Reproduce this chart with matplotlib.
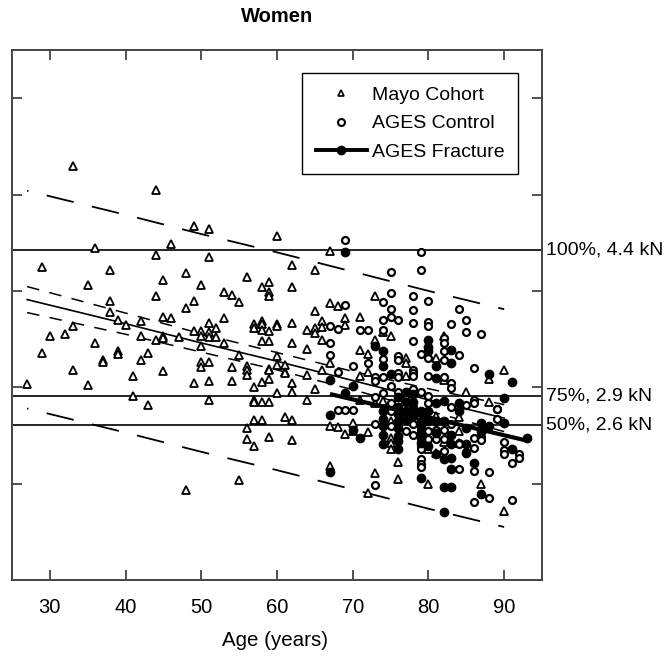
import matplotlib.pyplot as plt
from matplotlib.lines import Line2D
from matplotlib.transforms import blended_transform_factory

plt.rcParams['font.family'] = ['Liberation Sans', 'DejaVu Sans']
plt.rcParams['lines.scale_dashes'] = False

# Mayo cohort (open triangles): age, failure load (kN)
mayo_age = [27, 29, 29, 30, 32, 33, 33, 33, 35, 35, 36, 36, 37, 37,
            38, 38, 38, 39, 39, 39, 40, 41, 41, 42, 42, 42, 43, 43,
            44, 44, 44, 44, 45, 45, 45, 45, 45, 46, 46, 47, 48, 48, 48,
            49, 49, 49, 49, 50, 50, 50, 50, 50, 50,
            51, 51, 51, 51, 51, 51, 51, 51, 52, 52, 53, 53, 53, 54, 54, 54,
            55, 55, 55, 56, 56, 56, 56, 56, 56, 57, 57, 57, 57, 57, 57, 57,
            58, 58, 58, 58, 58, 58, 58, 58, 59, 59, 59, 59, 59, 59, 59, 59, 59, 59,
            60, 60, 60, 60, 60, 60, 61, 61, 61, 61, 62, 62, 62, 62, 62, 62, 62, 62,
            64, 64, 64, 64, 65, 65, 65, 65, 65, 66, 66, 66, 66,
            67, 67, 67, 67, 67, 68, 68, 69, 69, 69, 70, 70, 71, 71, 71, 71,
            72, 72, 72, 72, 73, 73, 73, 73, 74, 74, 75, 75, 75, 75, 75,
            76, 76, 77, 77, 77, 80, 80, 81, 81, 81, 82, 82, 82, 84, 84, 84,
            85, 87, 88, 88, 90, 90]
mayo_force = [3.03, 4.245, 3.356, 3.535, 3.552, 5.296, 3.631, 3.183, 4.065, 3.028, 4.448, 3.459, 3.286, 3.26,
              4.217, 3.897, 3.78, 3.70, 3.372, 3.35, 3.645, 3.114, 2.907, 3.69, 3.535, 3.286, 3.356, 2.814,
              5.052, 4.369, 3.948, 3.486, 4.111, 3.734, 3.535, 3.51, 3.165, 4.489, 3.724, 3.517, 4.183, 3.827, 1.935,
              4.672, 3.897, 3.579, 3.045, 4.062, 3.579, 3.53, 3.424, 3.259, 3.21,
              4.644, 4.355, 3.672, 3.573, 3.52, 3.259, 3.069, 2.873, 3.61, 3.517, 3.99, 3.718, 3.459, 3.959, 3.211, 3.069,
              3.883, 3.338, 2.038, 4.142, 3.217, 3.18, 3.13, 2.573, 2.466, 3.659, 3.614, 3.004, 2.873, 2.85, 2.659, 2.39,
              4.038, 3.683, 3.66, 3.59, 3.476, 3.052, 2.85, 2.659, 4.096, 3.99, 3.948, 3.58, 3.476, 3.19, 3.176, 3.09, 2.85, 2.483,
              4.569, 3.659, 3.64, 3.32, 3.235, 2.942, 3.235, 3.16, 3.149, 2.694, 4.266, 4.038, 3.672, 3.459, 3.045, 2.952, 2.659, 2.449,
              3.59, 3.397, 3.131, 2.873, 4.217, 3.79, 3.614, 3.563, 2.983, 3.683, 3.63, 3.486, 3.183,
              4.41, 3.873, 3.252, 2.60, 2.183, 3.845, 2.59, 3.718, 3.648, 2.511, 2.632, 2.545, 3.728, 3.39, 3.114, 2.873,
              3.349, 3.155, 2.539, 1.90, 3.948, 3.493, 2.84, 2.115, 3.569, 2.855, 3.527, 2.649, 2.47, 2.425, 2.356,
              2.224, 2.045, 3.304, 3.25, 3.114, 2.36, 1.994, 3.304, 2.70, 2.314, 3.53, 3.08, 2.43, 2.69, 2.55, 2.425,
              2.948, 1.994, 3.09, 2.845, 3.183, 1.718]

# AGES controls (open circles)
ctrl_age = [67, 67, 67, 68, 68, 68, 69, 69, 69, 70, 70, 71, 72, 72,
            73, 73, 73, 73, 73, 74, 74, 74, 74, 74, 74, 74,
            75, 75, 75, 75, 75, 75, 75, 75, 76, 76, 76, 76, 76, 76, 76, 76,
            77, 77, 77, 78, 78, 78, 78, 78, 78, 78, 78, 78, 78, 78,
            79, 79, 79, 79, 79, 79, 79, 79, 79, 79, 80, 80, 80, 80, 80, 80, 80, 80, 80,
            81, 81, 82, 82, 82, 82, 82, 82, 82, 82, 83, 83, 83, 83, 83, 83,
            84, 84, 84, 84, 84, 85, 85, 85, 85, 86, 86, 86, 86, 86, 86, 86,
            87, 87, 87, 87, 88, 88, 89, 89, 89, 90, 90, 90, 91, 91, 92, 92]
ctrl_force = [3.631, 3.459, 3.338, 3.604, 3.155, 2.76, 4.527, 3.855, 2.76, 3.217, 2.76, 3.59, 3.59, 3.252,
              3.11, 3.06, 2.90, 2.62, 1.983, 3.89, 3.693, 3.59, 3.294, 3.11, 2.94, 2.75,
              4.20, 3.976, 3.811, 3.734, 3.01, 2.84, 2.75, 2.60, 3.693, 3.328, 3.28, 3.15, 3.11, 2.95, 2.85, 2.58,
              2.92, 2.70, 2.55, 3.948, 3.797, 3.666, 3.476, 3.18, 3.15, 3.12, 2.98, 2.80, 2.62, 2.50,
              4.403, 4.217, 3.349, 2.95, 2.56, 2.39, 2.36, 2.252, 2.20, 2.17, 3.90, 3.676, 3.631, 3.304, 3.114, 2.907, 2.84, 2.545, 2.466,
              2.56, 2.459, 3.51, 3.46, 3.38, 3.28, 3.11, 2.56, 2.459, 2.338, 3.655, 3.045, 2.99, 2.80, 2.614, 1.97,
              3.811, 3.338, 2.425, 2.407, 2.156, 3.70, 3.569, 2.82, 2.33, 3.20, 2.873, 2.839, 2.477, 2.373, 2.13, 1.81,
              3.552, 2.56, 2.48, 2.449, 2.12, 1.846, 2.777, 2.77, 2.666, 2.43, 2.35, 2.31, 2.218, 1.832, 2.304, 2.27]

# AGES fracture cases (filled circles)
frac_age = [67, 67, 67, 69, 69, 70, 70, 71, 73, 74, 74, 74, 74, 74, 74, 74, 75,
            76, 76, 76, 76, 76, 76, 76, 76, 77, 77, 77, 77, 78, 78, 78, 78,
            79, 79, 79, 79, 79, 79, 79, 80, 80, 80, 80, 80, 80, 81, 81, 81, 81, 81, 81,
            82, 82, 82, 82, 82, 83, 83, 83, 83, 83, 83, 83, 84, 84, 85, 85, 85, 86,
            87, 87, 87, 88, 88, 90, 90, 91, 91, 93]
frac_force = [3.08, 2.71, 2.12, 4.406, 2.942, 3.01, 2.56, 2.477, 3.424, 3.38, 3.224, 2.75, 2.666, 2.597, 2.504, 2.407, 3.142,
              2.90, 2.80, 2.72, 2.649, 2.58, 2.493, 2.44, 2.356, 2.95, 2.85, 2.75, 2.66, 2.93, 2.85, 2.77, 2.70,
              2.75, 2.65, 2.60, 2.528, 2.47, 2.425, 2.063, 3.493, 3.42, 3.38, 2.75, 2.65, 2.39, 3.217, 3.10, 2.84, 2.649, 2.521, 2.304,
              2.855, 2.65, 2.252, 1.96, 1.701, 3.383, 3.252, 2.50, 2.407, 2.27, 2.149, 1.96, 2.839, 2.752, 2.58, 2.41, 2.32, 2.21,
              2.632, 2.54, 1.89, 3.14, 2.597, 2.89, 2.632, 3.056, 2.363, 2.477]

# Mayo regression with confidence and prediction bands
fit_age = [27, 40, 50, 60, 70, 80, 90]
fit_mid = [3.91, 3.66, 3.46, 3.27, 3.07, 2.87, 2.68]
ci_upper = [4.045, 3.77, 3.555, 3.36, 3.165, 2.985, 2.82]
ci_lower = [3.775, 3.55, 3.365, 3.18, 2.975, 2.755, 2.54]
pi_upper = [5.04, 4.79, 4.59, 4.40, 4.20, 4.00, 3.81]
pi_lower = [2.78, 2.53, 2.33, 2.14, 1.94, 1.74, 1.55]

# AGES fracture regression
frac_fit_age = [67, 92.8]
frac_fit = [2.93, 2.45]

# reference loads
ref_loads = [4.42, 2.91, 2.61]
ref_labels = ['100%, 4.4 kN', '75%, 2.9 kN', '50%, 2.6 kN']

fig = plt.figure(figsize=(6.71, 6.58), dpi=100)
ax = fig.add_axes([12 / 671, 78 / 658, 530 / 671, 530 / 658])

for v in ref_loads:
    ax.axhline(v, color='black', lw=1.2, zorder=1)

ax.plot(fit_age, fit_mid, color='black', lw=1.2, zorder=2)
ax.plot(fit_age, ci_upper, color='black', lw=1.1, ls=(0, (9, 7.5)), zorder=2)
ax.plot(fit_age, ci_lower, color='black', lw=1.1, ls=(0, (9, 7.5)), zorder=2)
ax.plot(fit_age, pi_upper, color='black', lw=1.3, ls=(19, (20, 13.5)), zorder=2)
ax.plot(fit_age, pi_lower, color='black', lw=1.3, ls=(19, (20, 13.5)), zorder=2)

ax.plot(mayo_age, mayo_force, ls='none', marker='^', ms=5.2, mfc='white',
        mec='black', mew=1.3, zorder=3)
ax.plot(ctrl_age, ctrl_force, ls='none', marker='o', ms=5, mfc='white',
        mec='black', mew=1.6, zorder=4)
ax.plot(frac_age, frac_force, ls='none', marker='o', ms=6, mfc='black',
        mec='black', zorder=5)
ax.plot(frac_fit_age, frac_fit, color='black', lw=3, solid_capstyle='butt', zorder=6)

ax.set_xlim(25, 95)
ax.set_ylim(1.0, 6.5)
ax.set_xticks([30, 40, 50, 60, 70, 80, 90])
ax.set_yticks([2, 3, 4, 5, 6])
ax.set_yticklabels([])
ax.tick_params(direction='in', length=7, width=1.2, top=True, right=True,
               labelsize=14.5, pad=13, color='#333333')
for s in ax.spines.values():
    s.set_color('#444444')
    s.set_linewidth(1.4)

trans = blended_transform_factory(ax.transAxes, ax.transData)
for v, lab in zip(ref_loads, ref_labels):
    ax.text(1.008, v, lab, transform=trans, va='center', ha='left', fontsize=14)

handles = [
    Line2D([], [], ls='none', marker='^', ms=5, mfc='white', mec='black', mew=1.2),
    Line2D([], [], ls='none', marker='o', ms=5, mfc='white', mec='black', mew=1.5),
    Line2D([], [], color='black', lw=2.8, marker='o', ms=6, mfc='black'),
]
leg = ax.legend(handles, ['Mayo Cohort', 'AGES Control', 'AGES Fracture'],
                loc='upper right', bbox_to_anchor=(0.955, 0.957), borderaxespad=0,
                fontsize=14, frameon=True, fancybox=False, framealpha=1,
                edgecolor='black', handlelength=2.65, handletextpad=0.25,
                labelspacing=0.55, borderpad=0.7)
leg.get_frame().set_linewidth(1.0)

fig.text(277 / 671, 1 - 17 / 658, 'Women', ha='center', va='center',
         fontsize=14.5, fontweight='bold')
fig.text(275 / 671, 1 - 641 / 658, 'Age (years)', ha='center', va='center',
         fontsize=14.8)

fig.savefig('out.png', dpi=100)
